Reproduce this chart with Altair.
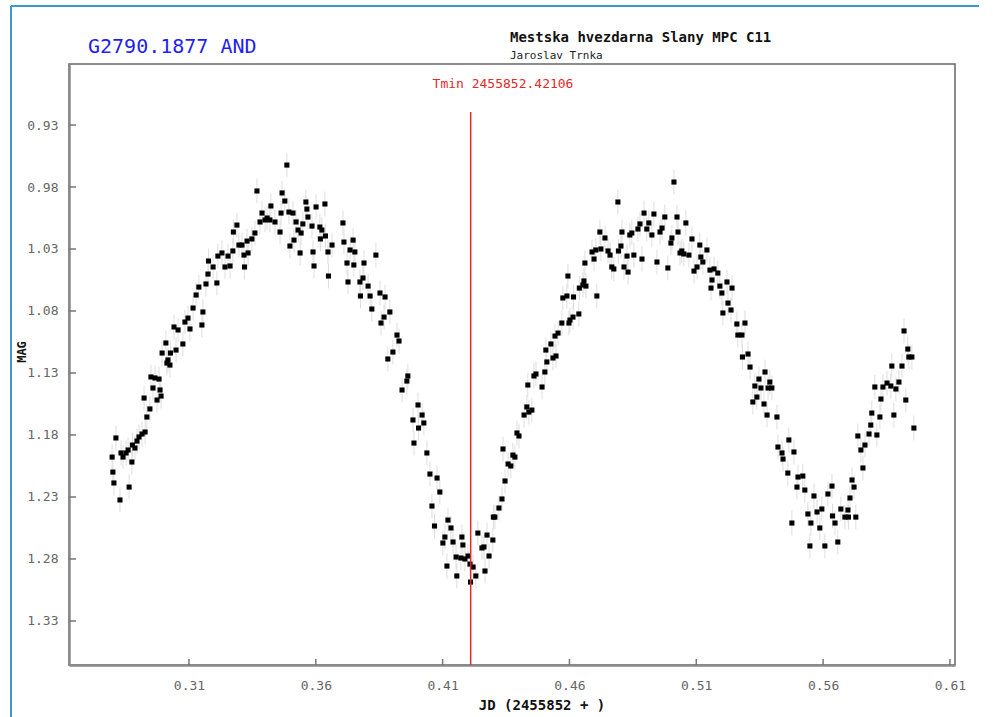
import altair as alt
import pandas as pd

TITLE = "G2790.1877 AND"
OBSERVATORY = "Mestska hvezdarna Slany MPC C11"
OBSERVER = "Jaroslav Trnka"
TMIN = 0.42106
TMIN_LABEL = "Tmin 2455852.42106"
X_TITLE = "JD (2455852 + )"
Y_TITLE = "MAG"
X_TICKS = [0.31, 0.36, 0.41, 0.46, 0.51, 0.56, 0.61]
Y_TICKS = [0.93, 0.98, 1.03, 1.08, 1.13, 1.18, 1.23, 1.28, 1.33]
X_DOMAIN = [0.2627, 0.612]
Y_DOMAIN = [0.8808, 1.3655]
MAG_ERR = 0.010

# (JD - 2455852, MAG)
rise_1 = [(0.2797,1.1978),(0.2800,1.2099),(0.2804,1.2187),(0.2812,1.1824),(0.2828,1.2324),(0.2832,1.1945),
(0.2840,1.1978),(0.2852,1.1945),(0.2860,1.1921),(0.2864,1.2220),(0.2875,1.2018),(0.2877,1.1881),(0.2887,1.1905),
(0.2895,1.1849),(0.2903,1.1816),(0.2915,1.1792),(0.2923,1.1502),(0.2927,1.1776),(0.2934,1.1655),(0.2946,1.1590),
(0.2950,1.1332),(0.2958,1.1421),(0.2966,1.1340),(0.2974,1.1518),(0.2982,1.1349),(0.2986,1.1437),(0.2990,1.1486),
(0.2994,1.1139),(0.3009,1.1058),(0.3013,1.1220),(0.3017,1.1195),(0.3025,1.1236),(0.3027,1.1139),(0.3041,1.0929),
(0.3049,1.1115),(0.3057,1.0953),(0.3076,1.1066),(0.3084,1.0889),(0.3096,1.0857),(0.3104,1.0945),(0.3116,1.0776),
(0.3128,1.0671),(0.3139,1.0607),(0.3151,1.0913),(0.3155,1.0808),(0.3167,1.0582),(0.3175,1.0502),(0.3177,1.0397),
(0.3195,1.0445),(0.3210,1.0574),(0.3214,1.0357),(0.3230,1.0332),(0.3242,1.0445),(0.3254,1.0357),(0.3262,1.0437),
(0.3273,1.0316),(0.3275,1.0163),(0.3289,1.0107),(0.3297,1.0268),(0.3309,1.0268),(0.3317,1.0349),(0.3319,1.0445),
(0.3329,1.0236),(0.3333,1.0332),(0.3348,1.0219),(0.3360,1.0171),(0.3368,0.9832),(0.3380,1.0082),(0.3388,1.0010),
(0.3400,1.0066)]

fall_1 = [(0.3408,1.0050),(0.3419,1.0066),(0.3423,0.9953),(0.3439,1.0082),(0.3459,1.0163),(0.3463,1.0010),
(0.3467,0.9848),(0.3478,0.9913),(0.3486,0.9623),(0.3494,1.0002),(0.3498,1.0276),(0.3510,1.0010),(0.3514,1.0228),
(0.3522,1.0082),(0.3530,1.0147),(0.3538,1.0332),(0.3542,1.0171),(0.3549,1.0098),(0.3561,0.9921),(0.3565,0.9978),
(0.3569,1.0042),(0.3585,1.0115),(0.3589,1.0324),(0.3593,1.0437),(0.3601,0.9961),(0.3616,1.0123),(0.3618,1.0219),
(0.3624,1.0147),(0.3636,0.9937),(0.3638,1.0195),(0.3648,1.0324),(0.3650,1.0518),(0.3664,1.0268),(0.3707,1.0090),
(0.3711,1.0244),(0.3723,1.0413),(0.3727,1.0566),(0.3735,1.0308),(0.3747,1.0228),(0.3750,1.0429),(0.3754,1.0324),
(0.3774,1.0566),(0.3776,1.0679),(0.3786,1.0534),(0.3790,1.0413),(0.3806,1.0599),(0.3814,1.0679),(0.3821,1.0784),
(0.3837,1.0349),(0.3853,1.0655),(0.3857,1.0897),(0.3869,1.0849),(0.3873,1.0687),(0.3884,1.1187),(0.3892,1.0808),
(0.3904,1.1131),(0.3920,1.0994),(0.3928,1.1042),(0.3940,1.1437),(0.3959,1.1365),(0.3963,1.1324),(0.3983,1.1679),
(0.3987,1.1865),(0.4003,1.1558),(0.4005,1.1744),(0.4019,1.1639),(0.4026,1.1703),(0.4038,1.1945),(0.4050,1.2115),
(0.4058,1.2373),(0.4068,1.2534)]

minimum_rise_2 = [(0.4078,1.2147),(0.4089,1.2260),(0.4101,1.2671),(0.4109,1.2623),(0.4117,1.2857),(0.4121,1.2486),
(0.4133,1.2550),(0.4141,1.2663),(0.4153,1.2784),(0.4156,1.2937),(0.4172,1.2792),(0.4176,1.2623),(0.4180,1.2687),
(0.4188,1.2800),(0.4200,1.2776),(0.4208,1.2841),(0.4210,1.2986),(0.4220,1.2865),(0.4231,1.2937),(0.4239,1.2591),
(0.4255,1.2711),(0.4263,1.2703),(0.4267,1.2897),(0.4275,1.2607),(0.4283,1.2776),(0.4298,1.2647),(0.4300,1.2462),
(0.4306,1.2462),(0.4322,1.2389),(0.4334,1.2316),(0.4338,1.1913),(0.4346,1.2171),(0.4358,1.2034),(0.4369,1.2050),
(0.4377,1.1962),(0.4385,1.1978),(0.4393,1.1784),(0.4401,1.1808),(0.4421,1.1639),(0.4432,1.1574),(0.4436,1.1397),
(0.4440,1.1615),(0.4452,1.1599),(0.4460,1.1324),(0.4468,1.1308),(0.4492,1.1413),(0.4503,1.1292),(0.4507,1.1115),
(0.4511,1.1211),(0.4527,1.1066),(0.4535,1.1179),(0.4543,1.1002),(0.4547,1.1163),(0.4555,1.0978),(0.4570,1.0897),
(0.4574,1.0695),(0.4590,1.0679),(0.4594,1.0518),(0.4598,1.0897),(0.4602,1.0873),(0.4614,1.0849),(0.4616,1.0687),
(0.4637,1.0824),(0.4639,1.0615),(0.4653,1.0590),(0.4657,1.0558),(0.4661,1.0413),(0.4665,1.0599),(0.4689,1.0324),
(0.4697,1.0381),(0.4704,1.0308),(0.4708,1.0679),(0.4720,1.0163)]

max_fall_2 = [(0.4724,1.0300),(0.4740,1.0211),(0.4752,1.0316),(0.4760,1.0349),(0.4767,1.0445),(0.4775,1.0461),
(0.4791,0.9921),(0.4793,1.0316),(0.4803,1.0276),(0.4807,1.0163),(0.4815,1.0445),(0.4827,1.0357),(0.4831,1.0486),
(0.4838,1.0187),(0.4846,1.0171),(0.4854,1.0349),(0.4870,1.0139),(0.4878,1.0098),(0.4886,1.0381),(0.4894,1.0010),
(0.4905,1.0139),(0.4913,1.0090),(0.4925,1.0187),(0.4933,1.0018),(0.4945,1.0405),(0.4957,1.0163),(0.4965,1.0131),
(0.4976,1.0042),(0.4988,1.0453),(0.5000,1.0252),(0.5004,1.0211),(0.5012,0.9760),(0.5024,1.0042),(0.5028,1.0163),
(0.5036,1.0332),(0.5043,1.0316),(0.5051,1.0340),(0.5059,1.0090),(0.5071,1.0349),(0.5083,1.0219),(0.5091,1.0478),
(0.5103,1.0445),(0.5114,1.0268),(0.5118,1.0365),(0.5126,1.0405),(0.5142,1.0308),(0.5154,1.0470),(0.5158,1.0615),
(0.5162,1.0550),(0.5170,1.0461),(0.5185,1.0494),(0.5193,1.0599),(0.5201,1.0655),(0.5205,1.0816),(0.5221,1.0566),
(0.5225,1.0736),(0.5237,1.0792),(0.5241,1.0615),(0.5260,1.0905),(0.5264,1.0994),(0.5280,1.0994),(0.5282,1.1171),
(0.5292,1.0897),(0.5304,1.1147),(0.5312,1.1252),(0.5323,1.1534),(0.5331,1.1405),(0.5339,1.1494),(0.5347,1.1349),
(0.5355,1.1421),(0.5367,1.1550),(0.5371,1.1292),(0.5379,1.1639),(0.5383,1.1421)]

min_rise_3 = [(0.5390,1.1373),(0.5398,1.1421),(0.5418,1.1655),(0.5422,1.1897),(0.5438,1.1945),(0.5442,1.1994),
(0.5461,1.2107),(0.5465,1.1840),(0.5477,1.2510),(0.5485,1.1937),(0.5497,1.2220),(0.5501,1.2139),(0.5520,1.2131),
(0.5528,1.2244),(0.5540,1.2437),(0.5548,1.2695),(0.5552,1.2510),(0.5564,1.2292),(0.5576,1.2421),(0.5587,1.2550),
(0.5595,1.2397),(0.5607,1.2695),(0.5619,1.2276),(0.5635,1.2212),(0.5637,1.2453),(0.5647,1.2510),(0.5658,1.2663),
(0.5670,1.2397),(0.5686,1.2462),(0.5698,1.2405),(0.5700,1.2462),(0.5706,1.2308),(0.5714,1.2163),(0.5722,1.2220),
(0.5729,1.2462),(0.5737,1.1808),(0.5749,1.1921),(0.5757,1.2066),(0.5765,1.1881),(0.5781,1.1792),(0.5788,1.1720),
(0.5792,1.1623),(0.5804,1.1413),(0.5812,1.1800),(0.5824,1.1655),(0.5828,1.1510),(0.5836,1.1413),(0.5852,1.1381),
(0.5867,1.1405),(0.5871,1.1244),(0.5879,1.1639),(0.5887,1.1429),(0.5899,1.1373),(0.5911,1.1244),(0.5919,1.0961),
(0.5926,1.1518),(0.5934,1.1107),(0.5938,1.1171),(0.5950,1.1171),(0.5958,1.1744)]

df = pd.DataFrame(rise_1 + fall_1 + minimum_rise_2 + max_fall_2 + min_rise_3, columns=["jd", "mag"])

W, H = 886, 601
MONO = "DejaVu Sans Mono"
xs = alt.Scale(domain=X_DOMAIN, nice=False, zero=False)
ys = alt.Scale(domain=Y_DOMAIN, nice=False, zero=False, reverse=True)

X_AXIS = alt.Axis(values=X_TICKS, format=".2f", title=None, ticks=False, tickSize=0,
                  grid=False, domainColor="#8a8a8a", domainWidth=2.5,
                  labelFont=MONO, labelFontSize=13, labelColor="#666", labelPadding=14)
Y_AXIS = alt.Axis(values=Y_TICKS, format=".2f", title=None, ticks=False, tickSize=0,
                  grid=False, domainColor="#8a8a8a", domainWidth=2.5,
                  labelFont=MONO, labelFontSize=13, labelColor="#666", labelPadding=11)

err = alt.Chart(df).transform_calculate(
    lo=f"datum.mag - {MAG_ERR}", hi=f"datum.mag + {MAG_ERR}"
).mark_rule(color="#dedede", strokeWidth=1).encode(
    x=alt.X("jd:Q", scale=xs, axis=X_AXIS),
    y=alt.Y("lo:Q", scale=ys, axis=Y_AXIS),
    y2="hi:Q",
)

pts = alt.Chart(df).mark_square(size=26, color="black", opacity=1).encode(
    x=alt.X("jd:Q", scale=xs, axis=X_AXIS),
    y=alt.Y("mag:Q", scale=ys, axis=Y_AXIS),
)

xt = alt.Chart(pd.DataFrame({"t": X_TICKS})).mark_rule(color="#777", strokeWidth=1.5).encode(
    x=alt.X("t:Q", scale=xs, axis=X_AXIS), y=alt.value(H - 6), y2=alt.value(H))
yt = alt.Chart(pd.DataFrame({"t": Y_TICKS})).mark_rule(color="#777", strokeWidth=1.5).encode(
    y=alt.Y("t:Q", scale=ys, axis=Y_AXIS), x=alt.value(0), x2=alt.value(7))

tmin = alt.Chart(pd.DataFrame({"t": [TMIN]})).mark_rule(color="#e32a2a", strokeWidth=1.5).encode(
    x=alt.X("t:Q", scale=xs, axis=X_AXIS), y=alt.value(48), y2=alt.value(H))


def label(txt, x, y, align="left", **kw):
    return alt.Chart(pd.DataFrame({"s": [txt]})).mark_text(
        align=align, baseline="middle", font=MONO, **kw
    ).encode(text="s:N", x=alt.value(x), y=alt.value(y))


texts = [
    label(TITLE, 19, -17, fontSize=20, color="#1f1ff0"),
    label(OBSERVATORY, 441, -26, fontSize=14, fontWeight="bold", color="#111"),
    label(OBSERVER, 441, -8, fontSize=11, color="#222"),
    label(TMIN_LABEL, 434, 20, align="center", fontSize=13, color="#e32a2a"),
    label(X_TITLE, 473, 642, align="center", fontSize=14, fontWeight="bold", color="#111"),
    label(Y_TITLE, -47, 288, align="center", fontSize=12, fontWeight="bold", color="#111", angle=270),
]

frame_left = alt.Chart(pd.DataFrame({"a": [0]})).mark_rule(color="#3a9cc4", strokeWidth=2).encode(
    x=alt.value(-58), y=alt.value(-58), y2=alt.value(660))
frame_top = alt.Chart(pd.DataFrame({"a": [0]})).mark_rule(color="#3a9cc4", strokeWidth=2).encode(
    y=alt.value(-58), x=alt.value(-58), x2=alt.value(910))

chart = alt.layer(err, pts, xt, yt, tmin, frame_left, frame_top, *texts).properties(
    width=W, height=H,
    padding={"left": 69, "top": 64, "right": 38, "bottom": 52},
    autosize=alt.AutoSizeParams(type="none"),
    background="white",
).configure_view(stroke="#666", strokeWidth=1.5)

chart.save("out.html", embed_options={"renderer": "svg", "actions": False})
